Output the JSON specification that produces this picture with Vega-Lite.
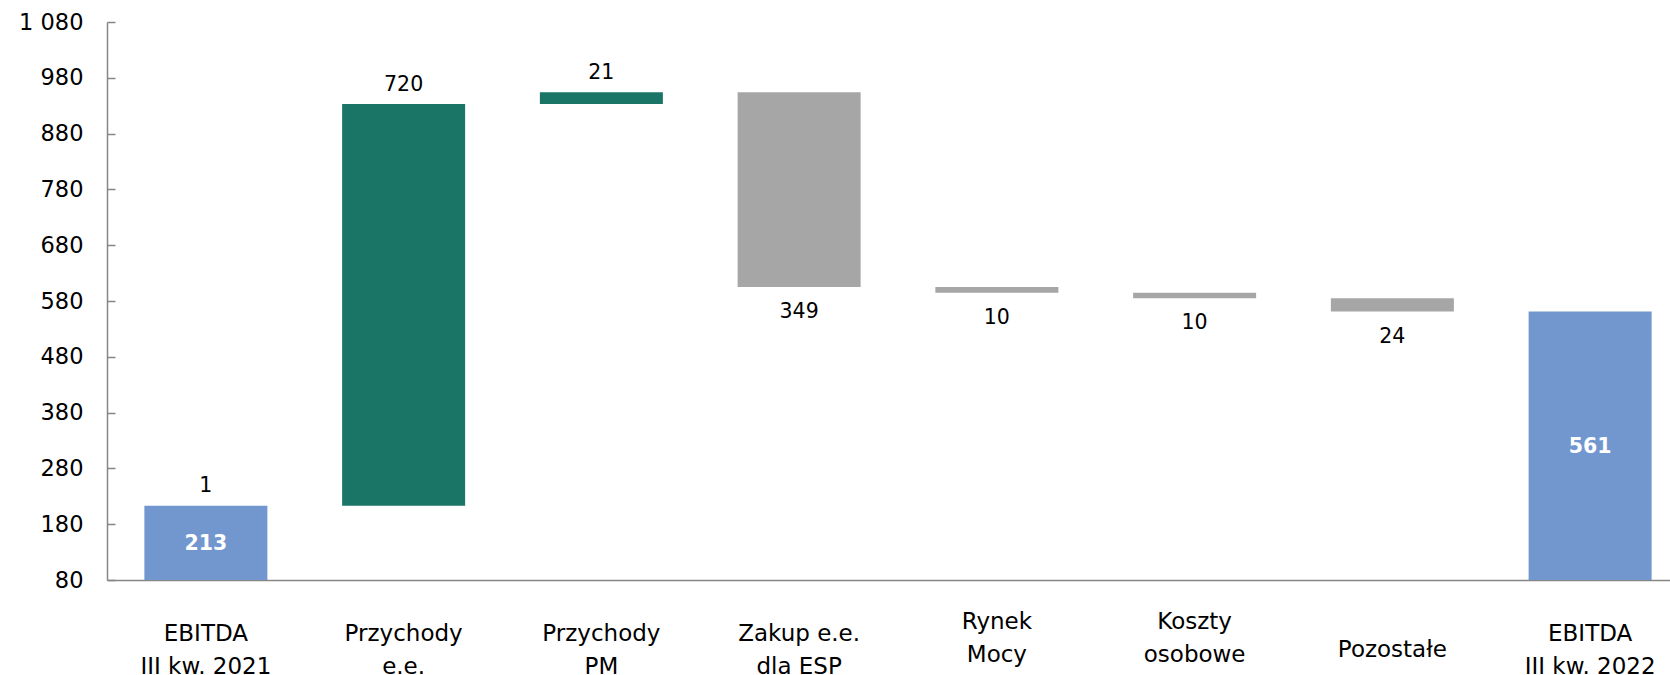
{
  "$schema": "https://vega.github.io/schema/vega-lite/v6.json",
  "autosize": {"type": "none"},
  "padding": {"left": 107, "top": 22, "right": 0, "bottom": 95},
  "width": 1582,
  "height": 558,
  "background": "white",
  "config": {
    "view": {"stroke": null},
    "font": "DejaVu Sans",
    "text": {"font": "DejaVu Sans", "fontSize": 20.5}
  },
  "data": {
    "values": [
      {"cat": "EBITDA|III kw. 2021", "start": 80, "end": 213, "kind": "total", "above": "1", "below": "", "inside": "213"},
      {"cat": "Przychody|e.e.", "start": 213, "end": 933, "kind": "increase", "above": "720", "below": "", "inside": ""},
      {"cat": "Przychody|PM", "start": 933, "end": 954, "kind": "increase", "above": "21", "below": "", "inside": ""},
      {"cat": "Zakup e.e.|dla ESP", "start": 954, "end": 605, "kind": "decrease", "above": "", "below": "349", "inside": ""},
      {"cat": "Rynek|Mocy", "start": 605, "end": 595, "kind": "decrease", "above": "", "below": "10", "inside": ""},
      {"cat": "Koszty|osobowe", "start": 595, "end": 585, "kind": "decrease", "above": "", "below": "10", "inside": ""},
      {"cat": "Pozostałe", "start": 585, "end": 561, "kind": "decrease", "above": "", "below": "24", "inside": ""},
      {"cat": "EBITDA|III kw. 2022", "start": 80, "end": 561, "kind": "total", "above": "", "below": "", "inside": "561"}
    ]
  },
  "encoding": {
    "x": {
      "field": "cat",
      "type": "nominal",
      "sort": null,
      "scale": {"paddingInner": 0.378, "paddingOuter": 0.189},
      "axis": {
        "title": null,
        "labelAngle": 0,
        "labelExpr": "split(datum.label, '|')",
        "labelFontSize": 23,
        "labelFont": "DejaVu Sans",
        "labelColor": "#000000",
        "labelLineHeight": 33,
        "labelBaseline": {
          "condition": [
            {"test": "indexof(datum.value, '|') < 0", "value": "line-top"},
            {"test": "datum.value == 'Rynek|Mocy' || datum.value == 'Koszty|osobowe'", "value": "bottom"}
          ],
          "value": "middle"
        },
        "labelPadding": 53,
        "ticks": false,
        "domainColor": "#868686",
        "domainWidth": 1.5,
        "labelLimit": 300
      }
    }
  },
  "layer": [
    {
      "mark": {"type": "bar"},
      "encoding": {
        "y": {
          "field": "start",
          "type": "quantitative",
          "scale": {"domain": [80, 1080], "nice": false, "zero": false},
          "axis": {
            "title": null,
            "values": [80, 180, 280, 380, 480, 580, 680, 780, 880, 980, 1080],
            "labelExpr": "replace(format(datum.value, ','), ',', ' ')",
            "labelFontSize": 22.5,
            "labelFont": "DejaVu Sans",
            "labelColor": "#000000",
            "labelPadding": 32,
            "tickSize": -8,
            "tickColor": "#868686",
            "tickWidth": 1.5,
            "domainColor": "#868686",
            "domainWidth": 1.5,
            "grid": false
          }
        },
        "y2": {"field": "end"},
        "color": {
          "field": "kind",
          "type": "nominal",
          "scale": {"domain": ["total", "increase", "decrease"], "range": ["#7297CE", "#1B7566", "#A6A6A6"]},
          "legend": null
        }
      }
    },
    {
      "transform": [{"filter": "datum.above != ''"}],
      "mark": {"type": "text", "baseline": "middle", "dy": -19.5, "color": "#000000"},
      "encoding": {
        "y": {"field": "end", "type": "quantitative"},
        "text": {"field": "above"}
      }
    },
    {
      "transform": [{"filter": "datum.below != ''"}],
      "mark": {"type": "text", "baseline": "middle", "dy": 25, "color": "#000000"},
      "encoding": {
        "y": {"field": "end", "type": "quantitative"},
        "text": {"field": "below"}
      }
    },
    {
      "transform": [
        {"filter": "datum.inside != ''"},
        {"fold": ["start", "end"], "as": ["edge", "value"]}
      ],
      "mark": {"type": "text", "baseline": "middle", "dy": 1, "color": "#FFFFFF", "fontWeight": "bold"},
      "encoding": {
        "y": {"aggregate": "mean", "field": "value", "type": "quantitative"},
        "text": {"field": "inside"}
      }
    }
  ]
}
